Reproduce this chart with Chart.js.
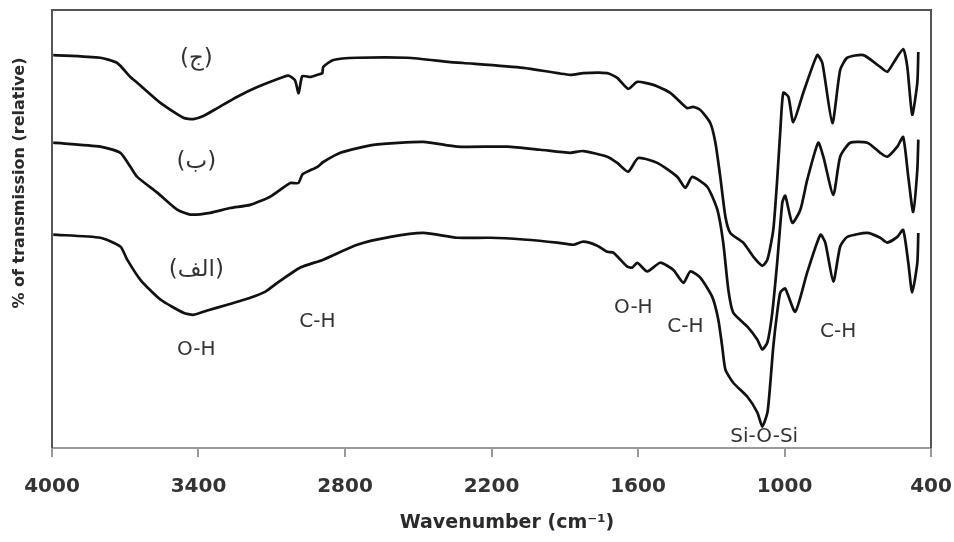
<!DOCTYPE html>
<html>
<head>
<meta charset="utf-8">
<script src="https://cdn.jsdelivr.net/npm/chart.js@4.4.1/dist/chart.umd.min.js"></script>
<style>
  html, body { margin: 0; padding: 0; background: #fff; }
  #wrap { width: 954px; height: 542px; }
</style>
</head>
<body>
<div id="wrap"><canvas id="ftir" width="954" height="542"></canvas></div>
<script>
// spectrum (ج) - top
var wnC = [3995, 3802, 3733, 3679, 3651, 3556, 3462, 3421, 3380, 3323, 3241, 3159, 3053, 3030, 3005, 2990, 2975, 2942, 2913, 2893, 2889, 2848, 2750, 2545, 2369, 2316, 2070, 1877, 1824, 1726, 1685, 1640, 1603, 1537, 1468, 1414, 1398, 1374, 1345, 1304, 1283, 1263, 1242, 1222, 1169, 1128, 1091, 1070, 1046, 1030, 1017, 1005, 984, 964, 923, 866, 845, 804, 772, 743, 677, 608, 579, 554, 514, 497, 477, 456, 452];
var tC = [89.7, 89.1, 87.9, 84.7, 83.4, 78.8, 75.4, 75.1, 75.8, 77.6, 80.2, 82.4, 84.7, 85.0, 84.0, 81.0, 84.9, 84.7, 85.2, 85.6, 87.0, 88.6, 89.1, 89.1, 88.1, 87.9, 86.8, 85.2, 85.6, 85.6, 84.5, 82.0, 83.6, 82.9, 81.1, 78.3, 77.6, 77.9, 77.2, 74.2, 69.7, 61.9, 52.8, 49.1, 46.9, 43.7, 41.6, 43.0, 49.8, 61.2, 72.6, 81.1, 80.2, 74.4, 81.1, 89.7, 87.9, 74.2, 86.3, 89.1, 89.7, 87.0, 85.9, 87.9, 91.1, 87.0, 76.1, 83.4, 90.4];

// spectrum (ب) - middle
var wnB = [3995, 3802, 3720, 3679, 3651, 3569, 3487, 3434, 3352, 3270, 3188, 3106, 3024, 2991, 2975, 2954, 2913, 2889, 2819, 2684, 2479, 2340, 2135, 2000, 1877, 1824, 1726, 1685, 1640, 1599, 1521, 1439, 1406, 1378, 1316, 1275, 1251, 1230, 1210, 1152, 1111, 1091, 1070, 1050, 1030, 1009, 997, 968, 935, 907, 862, 841, 800, 772, 731, 661, 608, 579, 538, 514, 493, 473, 456, 452];
var tB = [69.7, 68.8, 67.4, 64.2, 61.9, 58.3, 54.4, 53.3, 53.7, 54.8, 55.5, 57.4, 60.5, 60.5, 62.4, 63.1, 64.2, 65.3, 67.4, 69.2, 69.9, 68.8, 68.8, 68.1, 67.4, 67.8, 66.5, 65.1, 63.1, 66.2, 65.1, 61.9, 59.4, 61.9, 59.6, 54.4, 46.9, 36.1, 30.9, 27.7, 24.7, 22.5, 24.1, 30.9, 42.3, 56.0, 57.6, 51.4, 54.4, 61.2, 69.7, 66.5, 57.8, 66.5, 69.7, 69.7, 67.4, 66.5, 68.8, 71.0, 61.9, 53.9, 63.5, 70.4];

// spectrum (الف) - bottom
var wnA = [3995, 3802, 3720, 3692, 3638, 3556, 3462, 3421, 3364, 3282, 3188, 3126, 3077, 2983, 2889, 2750, 2614, 2479, 2340, 2205, 2070, 1931, 1865, 1824, 1767, 1726, 1701, 1644, 1623, 1603, 1562, 1509, 1456, 1414, 1386, 1345, 1296, 1271, 1255, 1242, 1210, 1152, 1111, 1091, 1070, 1058, 1046, 1030, 1017, 997, 956, 907, 853, 833, 800, 772, 743, 661, 608, 579, 538, 514, 493, 477, 456, 452];
var tA = [48.7, 48.0, 46.0, 43.0, 38.4, 33.9, 30.9, 30.4, 31.4, 32.7, 34.3, 35.7, 37.7, 41.2, 43.0, 46.4, 48.2, 49.1, 48.0, 48.0, 47.6, 46.9, 46.4, 47.1, 46.2, 44.8, 44.6, 41.4, 41.2, 42.3, 40.3, 42.3, 40.7, 37.7, 40.3, 38.9, 34.5, 29.3, 23.1, 17.9, 14.9, 11.7, 8.1, 4.9, 8.1, 14.9, 23.1, 30.9, 35.5, 36.4, 31.1, 40.1, 48.7, 46.9, 38.0, 46.0, 48.2, 49.1, 48.0, 46.9, 48.2, 49.8, 42.3, 35.5, 42.3, 49.1];

// axis ticks
var xTicks = [4000, 3400, 2800, 2200, 1600, 1000, 400];

// peak labels (text, wavenumber, transmission)
var labelText = ["(ج)", "(ب)", "(الف)", "O-H", "C-H", "O-H", "C-H", "Si-O-Si", "C-H"];
var labelWn = [3409, 3409, 3409, 3409, 2913, 1619, 1406, 1083, 780];
var labelT = [88.8, 65.3, 40.7, 22.5, 28.8, 32.0, 27.7, 2.6, 26.6];

function pts(wn, t) {
  return wn.map(function (w, i) {
    return { x: w, y: t[i] };
  });
}

function spectrum(wn, t) {
  return {
    data: pts(wn, t),
    borderColor: "#111111",
    borderWidth: 2.7,
    pointRadius: 0,
    tension: 0.2,
    fill: false,
  };
}

// frame, titles and peak labels
var decor = {
  id: "decor",
  afterDraw: function (chart) {
    var ctx = chart.ctx;
    var a = chart.chartArea;
    var xs = chart.scales.x;
    var ys = chart.scales.y;
    ctx.save();
    ctx.lineWidth = 2;
    ctx.strokeStyle = "#555555";
    ctx.beginPath();
    ctx.moveTo(a.left, a.bottom);
    ctx.lineTo(a.left, a.top);
    ctx.lineTo(a.right, a.top);
    ctx.lineTo(a.right, a.bottom);
    ctx.stroke();

    ctx.fillStyle = "#333333";
    ctx.textAlign = "center";
    ctx.textBaseline = "middle";
    for (var i = 0; i < labelText.length; i++) {
      ctx.font = i < 3 ? "23px 'DejaVu Sans'" : "20px 'DejaVu Sans'";
      ctx.fillText(labelText[i], xs.getPixelForValue(labelWn[i]), ys.getPixelForValue(labelT[i]));
    }

    ctx.fillStyle = "#2a2a2a";
    ctx.font = "bold 19px 'DejaVu Sans'";
    ctx.fillText("Wavenumber (cm\u207B\u00B9)", 507, 523);

    ctx.translate(20, 183);
    ctx.rotate(-Math.PI / 2);
    ctx.font = "bold 16px 'DejaVu Sans'";
    ctx.fillText("% of transmission (relative)", 0, 0);
    ctx.restore();
  },
};

var ctx1 = document.getElementById("ftir").getContext("2d");
var myChart = new Chart(ctx1, {
  type: "line",
  data: {
    datasets: [spectrum(wnC, tC), spectrum(wnB, tB), spectrum(wnA, tA)],
  },
  options: {
    responsive: false,
    animation: false,
    layout: { padding: { left: 52, right: 23, top: 10, bottom: 0 } },
    plugins: {
      legend: { display: false },
      tooltip: { enabled: false },
    },
    scales: {
      x: {
        type: "linear",
        reverse: true,
        min: 400,
        max: 4000,
        afterBuildTicks: function (scale) {
          scale.ticks = xTicks.map(function (v) {
            return { value: v };
          });
        },
        afterFit: function (scale) {
          scale.height = 94;
          scale.paddingLeft = 0;
          scale.paddingRight = 0;
        },
        grid: {
          drawOnChartArea: false,
          drawTicks: true,
          tickLength: 9,
          color: "#9a9a9a",
          lineWidth: 2,
        },
        border: { display: true, color: "#9a9a9a", width: 2 },
        ticks: {
          padding: 18,
          maxRotation: 0,
          color: "#333333",
          font: { family: "'DejaVu Sans'", size: 20, weight: "bold" },
          callback: function (v) {
            return String(v);
          },
        },
      },
      y: {
        display: false,
        min: 0,
        max: 100,
      },
    },
  },
  plugins: [decor],
});
</script>
</body>
</html>
